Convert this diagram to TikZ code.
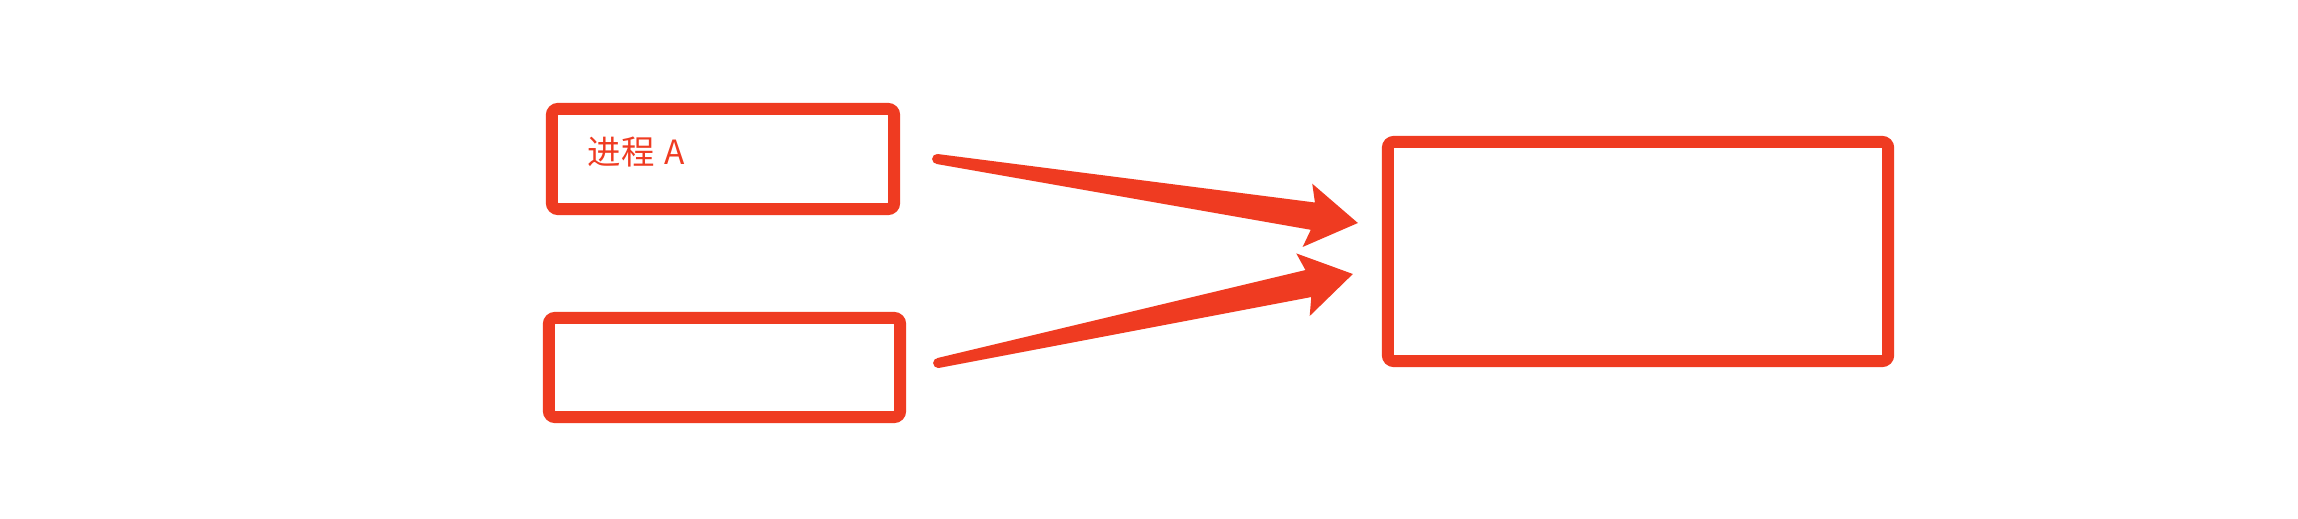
\documentclass[tikz,border=0pt]{standalone}
\usepackage{fontspec}
\newfontfamily\cjk{Noto Sans CJK SC}
\usepackage{xcolor}
\usepackage{tikz}
\usetikzlibrary{calc}
\definecolor{procred}{HTML}{EF3B21}

\begin{document}
\begin{tikzpicture}[
    x=0.01cm, y=-0.01cm,
    procbox/.style={rectangle, draw=procred, line width=0.12cm, rounded corners=0.06cm, inner sep=0pt},
    proclabel/.style={font=\cjk\fontsize{9.5pt}{11pt}\selectfont, text=procred, inner sep=0pt}
]
\useasboundingbox (0,0) rectangle (2298,518);

% processes and the shared box
\node[procbox, minimum width=3.42cm, minimum height=1.00cm] (procA) at (723,159) {};
\node[proclabel, anchor=base west] (nameA) at (587,164) {进程\hspace{0.3em}A};

\node[procbox, minimum width=3.51cm, minimum height=0.99cm] (procB) at (724.5,367.5) {};

\node[procbox, minimum width=5.00cm, minimum height=2.19cm] (shared) at (1638,251.5) {};

% tapered arrows
\coordinate (a1s) at ($(procA.east)+(37,0)$);
\coordinate (a1t) at ($(shared.west)+(-24,-28.5)$);
\coordinate (a1j) at ($(a1t)!0.455cm!(a1s)$);
\coordinate (a1b) at ($(a1t)!0.51cm!(a1s)$);
\fill[procred] ($(a1s)!0.05cm!90:(a1t)$) -- ($(a1j)!0.138cm!90:(a1t)$) -- ($(a1b)!0.32cm!90:(a1t)$) -- (a1t)
    -- ($(a1b)!0.32cm!-90:(a1t)$) -- ($(a1j)!0.138cm!-90:(a1t)$) -- ($(a1s)!0.05cm!-90:(a1t)$) -- cycle;
\fill[procred] (a1s) circle[radius=0.05cm];

\coordinate (a2s) at ($(procB.east)+(32,-4.5)$);
\coordinate (a2t) at ($(shared.west)+(-29,22.5)$);
\coordinate (a2j) at ($(a2t)!0.455cm!(a2s)$);
\coordinate (a2b) at ($(a2t)!0.51cm!(a2s)$);
\fill[procred] ($(a2s)!0.05cm!90:(a2t)$) -- ($(a2j)!0.138cm!90:(a2t)$) -- ($(a2b)!0.32cm!90:(a2t)$) -- (a2t)
    -- ($(a2b)!0.32cm!-90:(a2t)$) -- ($(a2j)!0.138cm!-90:(a2t)$) -- ($(a2s)!0.05cm!-90:(a2t)$) -- cycle;
\fill[procred] (a2s) circle[radius=0.05cm];

\end{tikzpicture}
\end{document}
